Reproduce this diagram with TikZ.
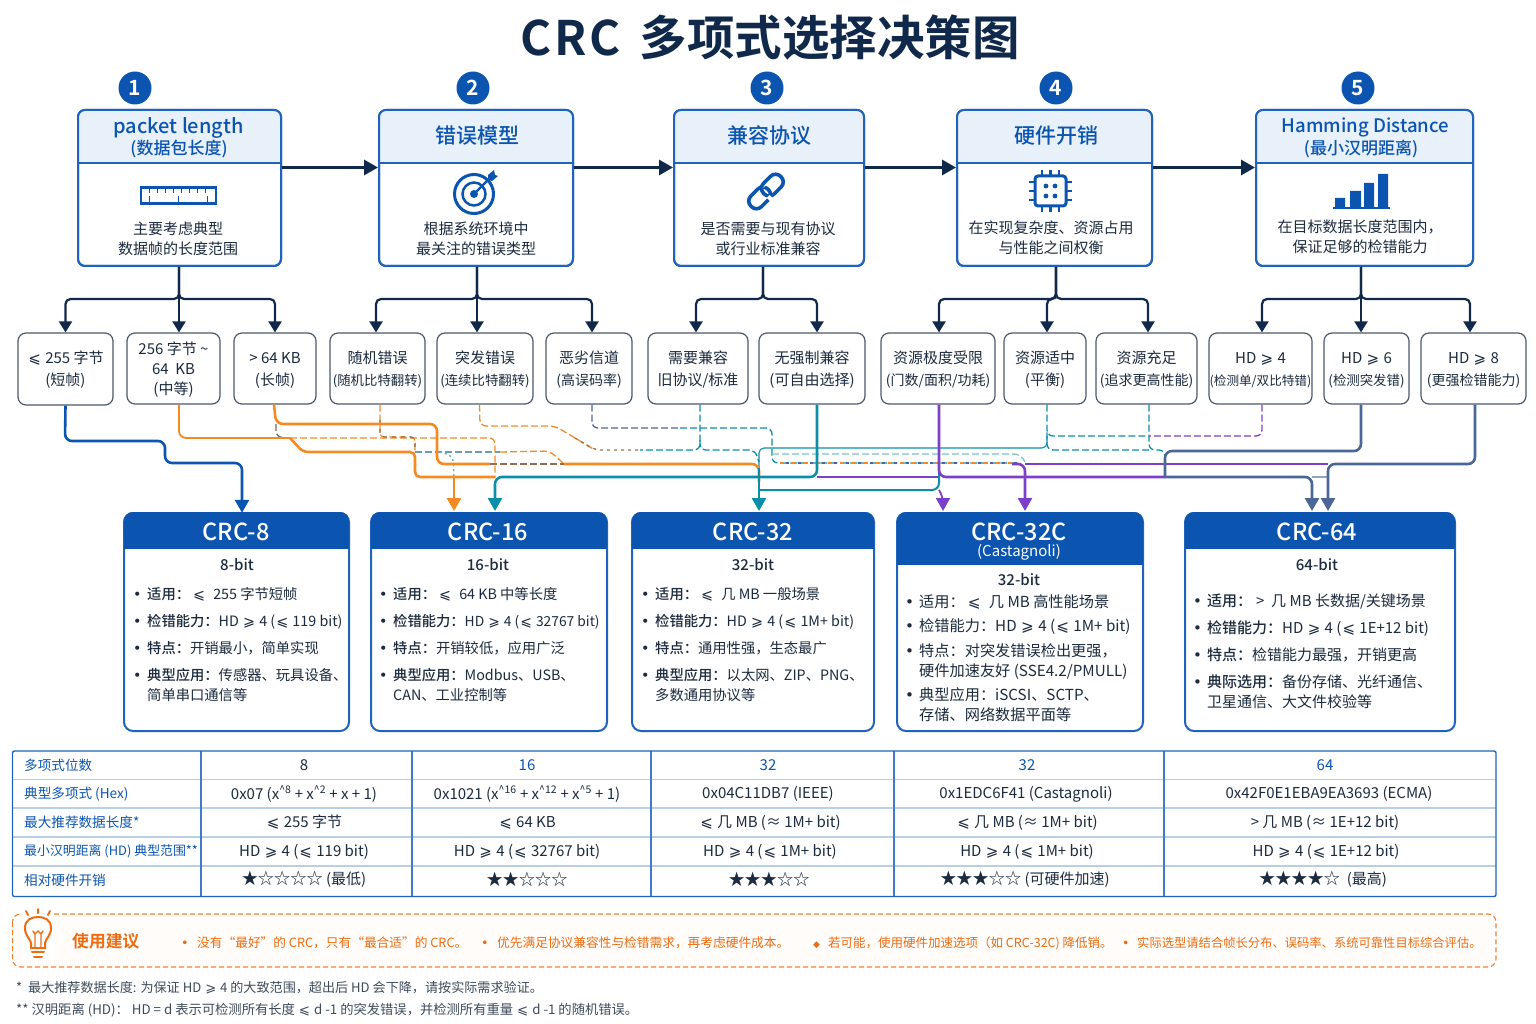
\documentclass[tikz,border=0pt]{standalone}
\usepackage{fontspec}
\setmainfont{Noto Sans CJK SC}[BoldFont={Noto Sans CJK SC Medium}]
\newfontfamily\titlef{Noto Sans CJK SC Bold}
\newfontfamily\symf{DejaVu Sans}
\usetikzlibrary{arrows.meta,calc}
\definecolor{navy}{HTML}{10284A}
\definecolor{bblue}{HTML}{0B55B0}
\definecolor{lineblue}{HTML}{1F63BC}
\definecolor{headfill}{HTML}{E8F0FA}
\definecolor{txt}{HTML}{1C2B3E}
\definecolor{optb}{HTML}{4B5A6E}
\definecolor{orng}{HTML}{F58A23}
\definecolor{teal1}{HTML}{0B8FA8}
\definecolor{purp}{HTML}{7B3FC9}
\definecolor{slate}{HTML}{4A6798}
\definecolor{grid}{HTML}{B9CFE6}
\definecolor{advice}{HTML}{EE6C10}
\newcommand{\lesym}{\hspace{1pt}{\symf ⩽}\hspace{1pt}}
\newcommand{\gesym}{\hspace{1pt}{\symf ⩾}\hspace{1pt}}
\newcommand{\lew}{\hspace{2pt}\lesym\hspace{4pt}}
\newcommand{\bul}{\makebox[14pt][l]{\symf •}}
\newcommand{\ind}{\hspace*{14pt}}
\newcommand{\sps}[1]{\textsuperscript{\textasciicircum #1}}
\newcommand{\fs}[2]{\fontsize{#1}{#2}\selectfont}
\newcommand{\abul}[2]{\makebox[#1pt][l]{\symf #2}}
\newcommand{\stars}[1]{{\fs{16.2}{15}#1}}
\tikzset{
 x=1pt,y=-1pt,
 numc/.style={circle,fill=bblue,text=white,minimum size=33pt,inner sep=0pt,font=\titlef\fs{21}{21}},
 cardb/.style={draw=lineblue,line width=2pt,rounded corners=7pt,fill=white},
 headt/.style={text=bblue,align=center,inner sep=0pt,yshift=-1pt,font=\fs{21}{22}\bfseries},
 bodyt/.style={text=txt,align=center,inner sep=0pt,yshift=-1pt,font=\fs{15}{20}\selectfont},
 optn/.style={draw=optb,line width=1.2pt,rounded corners=8pt,fill=white,text=txt,align=center,inner sep=0pt,font=\fs{15}{22}\selectfont},
 crch/.style={text=white,align=center,inner sep=0pt,yshift=-1pt,font=\fs{23.5}{24}\bfseries},
 crct/.style={text=txt,align=left,anchor=north west,inner sep=0pt,font=\fs{14.3}{20}\selectfont},
 bitt/.style={text=txt,inner sep=0pt,yshift=-1pt,font=\fs{15}{16}\bfseries},
 treel/.style={draw=navy,line width=2.2pt,rounded corners=5pt,-{Triangle[width=13pt,length=11pt]}},
 flowl/.style={draw=navy,line width=3pt,-{Triangle[width=15pt,length=14pt]}},
 solidc/.style={line width=2.6pt,rounded corners=7pt},
 thinc/.style={line width=1.3pt,rounded corners=6pt,dash pattern=on 7pt off 3pt},
 hairc/.style={line width=1.1pt,rounded corners=5pt},
 tip/.style={-{Triangle[width=14pt,length=13pt]}},
 rowl/.style={text=bblue,anchor=west,inner sep=0pt,font=\fs{13.6}{14}\selectfont},
 cell/.style={text=txt,inner sep=0pt,font=\fs{15}{15}\selectfont},
 advt/.style={text=advice,anchor=west,inner sep=0pt,yshift=-1pt,font=\fs{12.7}{14}\selectfont},
 foot/.style={text=txt!85,anchor=west,inner sep=0pt,yshift=-1pt,font=\fs{13.1}{14}\selectfont},
 icon/.style={draw=bblue,line width=2.2pt},
}
\begin{document}
\begin{tikzpicture}
\useasboundingbox (0,0) rectangle (1536,1024);
\node[text=navy,inner sep=0pt,font=\titlef\fs{47.5}{50}] (title) at (770,38) {C\hspace{3pt}R\hspace{3pt}C\hspace{19pt}多项式选择决策图};
% number badges
\node[numc] (n1) at (135,88) {1};
\node[numc] (n2) at (473,88) {2};
\node[numc] (n3) at (767,88) {3};
\node[numc] (n4) at (1056,88) {4};
\node[numc] (n5) at (1358,88) {5};
% top cards
\newcommand{\card}[3]{% name x1 x2
 \node[cardb,minimum width=#3pt-#2pt,minimum height=156pt,inner sep=0pt] (#1) at ({(#2+#3)/2},188) {};
 \begin{scope}
 \clip[rounded corners=7pt] (#2,110) rectangle (#3,266);
 \fill[headfill] (#2,110) rectangle (#3,163);
 \end{scope}
 \draw[draw=lineblue,line width=2pt,rounded corners=7pt] (#2,110) rectangle (#3,266);
 \draw[draw=lineblue,line width=2pt] (#2,163) -- (#3,163);
}
\card{c1}{78}{281}
\card{c2}{379}{573}
\card{c3}{674}{864}
\card{c4}{957}{1152}
\card{c5}{1256}{1473}
\node[headt,font=\fs{20}{22}\bfseries] (h1a) at (178.5,127) {packet length};
\node[headt,font=\fs{17}{18}\bfseries] (h1b) at (179,148) {(数据包长度)};
\node[headt] (h2) at (477,135) {错误模型};
\node[headt] (h3) at (769,135) {兼容协议};
\node[headt] (h4) at (1056,135) {硬件开销};
\node[headt,font=\fs{18.6}{22}\bfseries] (h5a) at (1365.5,126) {Hamming Distance};
\node[headt,font=\fs{17}{18}\bfseries] (h5b) at (1361,148) {(最小汉明距离)};
\node[bodyt] (b1) at (178,238) {主要考虑典型\\数据帧的长度范围};
\node[bodyt] (b2) at (476,238) {根据系统环境中\\最关注的错误类型};
\node[bodyt] (b3) at (768,238) {是否需要与现有协议\\或行业标准兼容};
\node[bodyt] (b4) at (1051,237) {在实现复杂度、资源占用\\与性能之间权衡};
\node[bodyt] (b5) at (1360,236) {在目标数据长度范围内，\\保证足够的检错能力};
% icons
\draw[icon,fill=white] (141,187.5) rectangle (216,203.5);
\foreach \xx in {149,157,...,209} \draw[bblue,line width=1pt] (\xx,188) -- (\xx,193);
\foreach \xx in {149,178.5,207} \draw[bblue,line width=1pt] (\xx,196) -- (\xx,203);
\draw[icon,line width=3pt] (474,194) circle (19.5);
\draw[icon,line width=2.5pt] (474,194) circle (11.5);
\fill[bblue] (474,194) circle (4);
\draw[bblue,line width=2.4pt] (474,194) -- (491,177);
\fill[bblue] (488,175) -- (494,170) -- (495,175) -- (498,176) -- (492,181) -- (488,180) -- cycle;
\begin{scope}[shift={(766,191.5)}]
 \draw[icon,line width=3.6pt,rounded corners=7pt,rotate=45] (-21,-7.5) rectangle (3,7.5);
 \draw[white,line width=6pt,rotate=45] (0,-7.5) -- (6,-7.5);
 \draw[icon,line width=3.6pt,rounded corners=7pt,rotate=45] (-3,-7.5) rectangle (21,7.5);
 \draw[white,line width=5pt,rotate=45] (-4,7.5) -- (0,7.5);
\end{scope}
\draw[icon,line width=3pt,rounded corners=3pt] (1035,176) rectangle (1066,206);
\foreach \xx in {1042,1050.5,1059} \draw[bblue,line width=2.2pt] (\xx,170) -- (\xx,176) (\xx,206) -- (\xx,212);
\foreach \yy in {182,191,200} \draw[bblue,line width=2.2pt] (1029,\yy) -- (1035,\yy) (1066,\yy) -- (1072,\yy);
\foreach \xx in {1046,1055} \foreach \yy in {186,196} \fill[bblue] (\xx,\yy) circle (2.4);
\fill[bblue] (1335,198) rectangle (1345,207) (1350,191) rectangle (1361,207) (1364,183) rectangle (1374,207) (1378,174) rectangle (1388,207);
\draw[bblue,line width=1.8pt] (1333,208) -- (1390,208);
% flow arrows
\draw[flowl] ([yshift=20.5pt]c1.east) -- ([yshift=20.5pt]c2.west);
\draw[flowl] ([yshift=20.5pt]c2.east) -- ([yshift=20.5pt]c3.west);
\draw[flowl] ([yshift=20.5pt]c3.east) -- ([yshift=20.5pt]c4.west);
\draw[flowl] ([yshift=20.5pt]c4.east) -- ([yshift=20.5pt]c5.west);
% options
\newcommand{\opt}[6]{\node[optn,minimum width=#3pt-#2pt,minimum height=#5pt-#4pt] (#1) at ({(#2+#3)/2},{(#4+#5)/2}) {\rule{0pt}{14pt}#6};}
\opt{o1}{18}{113}{333}{405}{\lesym{} 255 字节\\(短帧)}
\opt{o2}{127}{220}{333}{404}{256 字节 \textasciitilde\\[-2pt]64\ \ KB\\[-2pt](中等)}
\opt{o3}{234}{316}{333}{404}{> 64 KB\\(长帧)}
\opt{o4}{330}{425}{333}{404}{随机错误\\\fs{13.4}{20}\selectfont(随机比特翻转)}
\opt{o5}{437}{533}{333}{404}{突发错误\\\fs{13.4}{20}\selectfont(连续比特翻转)}
\opt{o6}{546}{632}{333}{404}{恶劣信道\\\fs{14}{20}\selectfont(高误码率)}
\opt{o7}{648}{748}{333}{404}{需要兼容\\旧协议/标准}
\opt{o8}{759}{865}{333}{404}{无强制兼容\\(可自由选择)}
\opt{o9}{881}{995}{333}{404}{资源极度受限\\\fs{14}{22}\selectfont(门数/面积/功耗)}
\opt{o10}{1004}{1086}{333}{404}{资源适中\\(平衡)}
\opt{o11}{1096}{1197}{333}{404}{资源充足\\\fs{14}{22}\selectfont(追求更高性能)}
\opt{o12}{1209}{1312}{333}{404}{HD \gesym{} 4\\\fs{12.6}{22}\selectfont(检测单/双比特错)}
\opt{o13}{1324}{1409}{333}{404}{HD \gesym{} 6\\\fs{13.4}{22}\selectfont(检测突发错)}
\opt{o14}{1421}{1526}{333}{404}{HD \gesym{} 8\\\fs{14}{22}\selectfont(更强检错能力)}
% trees
\newcommand{\tree}[3]{% card name, start shift, list
 \foreach \tg/\sh in {#3} \draw[treel] ([xshift=#2pt]#1.south) -- ++(0,32) -| ([xshift=\sh pt]\tg.north);
}
\tree{c1}{-0.5}{o1/0,o2/5.5,o3/0}
\tree{c2}{1}{o4/-1.5,o5/-8,o6/3}
\tree{c3}{-6}{o7/-2,o8/5}
\tree{c4}{1.5}{o9/1,o10/2,o11/1.5}
\tree{c5}{-3.5}{o12/1.5,o13/-5.5,o14/-3.5}
% CRC cards
\newcommand{\crc}[4]{% name x1 x2 hy
 \node[inner sep=0pt,minimum width=#3pt-#2pt,minimum height=218pt] (#1) at ({(#2+#3)/2},622) {};
 \draw[draw=lineblue,line width=2pt,rounded corners=9pt,fill=white] (#2,513) rectangle (#3,731);
 \begin{scope}
 \clip[rounded corners=9pt] (#2,512) rectangle (#3,731);
 \fill[bblue] (#2,512) rectangle (#3,#4);
 \end{scope}
}
\crc{k1}{124}{349}{549}
\crc{k2}{371}{607}{549}
\crc{k3}{632}{874}{549}
\crc{k4}{897}{1143}{565}
\crc{k5}{1185}{1455}{549}
\node[crch] (t1) at (236,531) {CRC-8};
\node[crch] (t2) at (488,531) {CRC-16};
\node[crch] (t3) at (753,531) {CRC-32};
\node[crch] (t4) at (1019,531) {CRC-32C};
\node[crch,font=\fs{15}{16}\selectfont] (t4b) at (1019,551) {(Castagnoli)};
\node[crch] (t5) at (1317,531) {CRC-64};
\node[bitt] (w1) at (237,564) {8-bit};
\node[bitt] (w2) at (488,564) {16-bit};
\node[bitt] (w3) at (753,564) {32-bit};
\node[bitt] (w4) at (1019,579) {32-bit};
\node[bitt] (w5) at (1317,564) {64-bit};
\node[crct] (l1) at (133,587) {\bul{\bfseries 适用：}\lew{} 255 字节短帧\\[7pt]\bul{\bfseries 检错能力：}HD \gesym{} 4 (\lesym{} 119 bit)\\[7pt]\bul{\bfseries 特点：}开销最小，简单实现\\[7pt]\bul{\bfseries 典型应用：}传感器、玩具设备、\\\ind 简单串口通信等};
\node[crct] (l2) at (379,587) {\bul{\bfseries 适用：}\lew{} 64 KB 中等长度\\[7pt]\bul{\bfseries 检错能力：}{\fs{13.8}{20}HD \gesym{} 4 (\lesym{} 32767 bit)}\\[7pt]\bul{\bfseries 特点：}开销较低，应用广泛\\[7pt]\bul{\bfseries 典型应用：}Modbus、USB、\\\ind CAN、工业控制等};
\node[crct] (l3) at (641,587) {\bul{\bfseries 适用：}\lew{} 几 MB 一般场景\\[7pt]\bul{\bfseries 检错能力：}HD \gesym{} 4 (\lesym{} 1M+ bit)\\[7pt]\bul{\bfseries 特点：}通用性强，生态最广\\[7pt]\bul{\bfseries 典型应用：}以太网、ZIP、PNG、\\\ind 多数通用协议等};
\node[crct,font=\fs{15.2}{20}\selectfont] (l4) at (905,594) {\bul 适用：\lew{} 几 MB 高性能场景\\[4pt]\bul 检错能力：HD \gesym{} 4 (\lesym{} 1M+ bit)\\[5pt]\bul 特点：对突发错误检出更强，\\\ind 硬件加速友好 (SSE4.2/PMULL)\\[4pt]\bul 典型应用：iSCSI、SCTP、\\\ind 存储、网络数据平面等};
\node[crct,font=\fs{15}{20}\selectfont] (l5) at (1193,594) {\bul{\bfseries 适用：}\hspace{4pt}>\ \ 几\ MB 长数据/关键场景\\[7pt]\bul{\bfseries 检错能力：}HD \gesym{} 4 (\lesym{} 1E+12 bit)\\[7pt]\bul{\bfseries 特点：}检错能力最强，开销更高\\[7pt]\bul{\bfseries 典际选用：}备份存储、光纤通信、\\\ind 卫星通信、大文件校验等};
% connector targets and junctions
\coordinate (in8) at ([xshift=5.5pt]k1.north);
\coordinate (in16a) at (454,511);
\coordinate (in16b) at (495,511);
\coordinate (in32) at (759,511);
\coordinate (in32a) at (943,511);
\coordinate (in32b) at (1025,511);
\coordinate (in64a) at (1312,511);
\coordinate (in64b) at (1328,511);
\coordinate (j1) at (290,438);
\coordinate (j2) at (415,452);
% dashed routes
\draw[thinc,orng] (j1) -- (495,438) -- (495,478);
\draw[thinc,optb!70!orng] (276,424) -- (276,437) -- (j1);
\draw[thinc,orng,rounded corners=4pt] ([xshift=2.5pt]o4.south) -- (380,437) -- (415,437) -- (j2);
\draw[thinc,optb!60!orng,rounded corners=4pt,dash pattern=on 4pt off 5pt] (380,420) -- (380,437) -- (415,437) -- (j2);
\draw[thinc,line width=1.1pt,optb!50!teal1!70!white] (j2) -- (500,452);
\draw[thinc,orng] (500,452) -- (550,451) -- (564,464);
\draw[thinc,teal1!70!white,dash pattern=on 2pt off 3pt] (440,452) -- (453,456) -- (454,478);
\draw[thinc,optb!60!orng] (490,464) -- (564,464);
\draw[thinc,orng] ([xshift=-5.5pt]o5.south) -- (480,426) -- (555,426) -- (595,450);
\draw[thinc,optb!50!orng,dash pattern=on 3pt off 4pt] (575,438) -- (595,450) -- (640,450);
\draw[thinc,teal1] ([xshift=2pt]o7.south) -- (700,450) -- (640,450);
\draw[thinc,teal1] (700,440) -- (700,450) -- (755,450) -- (759,462);
\draw[thinc,slate] ([xshift=3pt]o6.south) -- (592,428) -- (680,428);
\draw[thinc,teal1] (680,428) -- (772,428) -- (772,463) -- (1020,463);
\draw[thinc,orng,dash pattern=on 4pt off 8pt] (780,463) -- (1020,463);
\draw[thinc,slate,dash pattern=on 3pt off 9pt,dash phase=6pt] (780,463) -- (1020,463);
\draw[thinc,teal1!55!white] (772,454) -- (1020,454) -- (1025,462);
\draw[thinc,teal1] ([xshift=2pt]o10.south) -- (1047,436) -- (1149,436);
\draw[thinc,purp] ([xshift=1.5pt]o12.south) -- (1262,436) -- (1149,436);
\draw[thinc,teal1] ([xshift=2.5pt]o11.south) -- (1149,450) -- (1165,450) -- (1165,470);
\draw[thinc,teal1] (1149,450) -- (1047,450) -- (1047,430);
% thin solids
\draw[hairc,teal1] (759,470) -- (759,448) -- (1047,448) -- (1047,436);
\draw[hairc,purp] (817,477) -- (939,477);
\draw[hairc,purp] (1025,464) -- (1328,464);
\draw[hairc,slate!60!white] (1312,477) -- (1328,477);
% solid routes
\draw[solidc,bblue,tip] (o1.south) -- (65,441) -- (165,441) -- (165,463) -- (242,463) -- (in8);
\draw[solidc,orng,line width=1.8pt] ([xshift=5.5pt]o2.south) -- (179,438) -- (j1);
\draw[solidc,orng] ([xshift=-1pt]o3.south) -- (276,424) -- (437,424) -- (437,464) -- (490,464);
\draw[solidc,orng] (564,464) -- (759,464) -- (759,482);
\draw[solidc,orng,rounded corners=5pt] (j1) -- (303,452) -- (j2) -- (415,477) -- (495,477);
\draw[solidc,orng,tip] (454,478) -- (in16a);
\draw[solidc,teal1,tip] ([xshift=5pt]o8.south) -- (817,477) -- (495,477) -- (in16b);
\draw[solidc,teal1,line width=2pt] (939,472) -- (939,490) -- (759,490);
\draw[solidc,teal1,tip] (759,468) -- (in32);
\draw[solidc,purp,line width=1.8pt,tip] (939,490) -- (943,496) -- (in32a);
\draw[solidc,purp] ([xshift=1pt]o9.south) -- (939,477) -- (1165,477);
\draw[solidc,purp,tip] (1012,464) -- (1025,464) -- (in32b);
\draw[solidc,slate] ([xshift=-5.5pt]o13.south) -- (1361,451) -- (1165,451) -- (1165,477);
\draw[solidc,slate,tip] (1165,477) -- (1312,477) -- (in64a);
\draw[solidc,slate,tip] ([xshift=1.5pt]o14.south) -- (1475,464) -- (1328,464) -- (in64b);
% table
\foreach \yy in {779.5,808,837,866} \draw[grid,line width=1.2pt] (12.5,\yy) -- (1496,\yy);
\foreach \xx in {201,412,651,894,1164} \draw[lineblue!85,line width=1.2pt] (\xx,751) -- (\xx,896.5);
\draw[lineblue,line width=1.4pt,rounded corners=2pt] (12.5,751) rectangle (1496,896.5);
\node[rowl] (r1) at (24,765.5) {多项式位数};
\node[rowl] (r2) at (24,794) {典型多项式 (Hex)};
\node[rowl] (r3) at (24,822.5) {最大推荐数据长度*};
\node[rowl,font=\fs{12.9}{14}\selectfont] (r4) at (24,851.5) {最小汉明距离 (HD) 典型范围**};
\node[rowl] (r5) at (24,880) {相对硬件开销};
\node[cell] (a1) at (304,765.5) {8};
\node[cell,text=bblue] (a2) at (527,765.5) {16};
\node[cell,text=bblue] (a3) at (768,765.5) {32};
\node[cell,text=bblue] (a4) at (1027,765.5) {32};
\node[cell,text=bblue] (a5) at (1325,765.5) {64};
\node[cell] (b1x) at (304,794) {0x07 (x\sps{8} + x\sps{2} + x + 1)};
\node[cell] (b2x) at (527,794) {0x1021 (x\sps{16} + x\sps{12} + x\sps{5} + 1)};
\node[cell] (b3x) at (768,794) {0x04C11DB7 (IEEE)};
\node[cell] (b4x) at (1026,794) {0x1EDC6F41 (Castagnoli)};
\node[cell] (b5x) at (1329,794) {0x42F0E1EBA9EA3693 (ECMA)};
\node[cell] (c1x) at (304,822.5) {\lesym{} 255 字节};
\node[cell] (c2x) at (527,822.5) {\lesym{} 64 KB};
\node[cell] (c3x) at (770,822.5) {\lesym{} 几 MB (≈ 1M+ bit)};
\node[cell] (c4x) at (1027,822.5) {\lesym{} 几 MB (≈ 1M+ bit)};
\node[cell] (c5x) at (1325,822.5) {> 几 MB (≈ 1E+12 bit)};
\node[cell] (d1x) at (304,851.5) {HD \gesym{} 4 (\lesym{} 119 bit)};
\node[cell] (d2x) at (527,851.5) {HD \gesym{} 4 (\lesym{} 32767 bit)};
\node[cell] (d3x) at (770,851.5) {HD \gesym{} 4 (\lesym{} 1M+ bit)};
\node[cell] (d4x) at (1027,851.5) {HD \gesym{} 4 (\lesym{} 1M+ bit)};
\node[cell] (d5x) at (1326,851.5) {HD \gesym{} 4 (\lesym{} 1E+12 bit)};
\node[cell] (e1x) at (304,879.5) {\stars{★☆☆☆☆} (最低)};
\node[cell] (e2x) at (527,879.5) {\stars{★★☆☆☆}};
\node[cell] (e3x) at (769,879.5) {\stars{★★★☆☆}};
\node[cell] (e4x) at (1025,879.5) {\stars{★★★☆☆} (可硬件加速)};
\node[cell] (e5x) at (1323,879.5) {\stars{★★★★☆}\ \ (最高)};
% advice
\draw[advice!85,line width=1.1pt,dash pattern=on 5pt off 3pt,rounded corners=8pt,fill=orange!2] (12.5,914) rectangle (1496,967);
\begin{scope}[advice,line width=2pt,line cap=round]
 \fill[white] (22,908) rectangle (54,960);
 \draw (31,948) -- (31,943) .. controls (30,938) and (25,936) .. (25,928) .. controls (25,920) and (31,917) .. (38,917) .. controls (45,917) and (51,920) .. (51,928) .. controls (51,936) and (46,938) .. (45,943) -- (45,948) -- cycle;
 \draw[line width=1.4pt] (35,948) -- (35,934) (41,948) -- (41,934) (33,931) -- (35,934) -- (38,931) -- (41,934) -- (43,931);
 \draw (32,952) -- (44,952) (34,956.5) -- (42,956.5);
 \draw (38,909) -- (38,913) (26,911) -- (28,915) (50,911) -- (48,915);
\end{scope}
\node[advt,font=\titlef\fs{16.8}{18}] (adv) at (72,940) {使用建议};
\node[advt] (a1t) at (181,942) {\abul{16}{•}没有“最好”的 CRC，只有“最合适”的 CRC。};
\node[advt] (a2t) at (481,942) {\abul{16}{•}优先满足协议兼容性与检错需求，再考虑硬件成本。};
\node[advt,font=\fs{12.5}{14}\selectfont] (a3t) at (813,942) {\abul{15}{\fs{9}{14}◆}若可能，使用硬件加速选项（如 CRC-32C) 降低销。};
\node[advt,font=\fs{12.3}{14}\selectfont] (a4t) at (1122,942) {\abul{15}{•}实际选型请结合帧长分布、误码率、系统可靠性目标综合评估。};
% footnotes
\node[foot] (f1) at (16,987) {*\ \ 最大推荐数据长度: 为保证 HD \gesym{} 4 的大致范围，超出后 HD 会下降，请按实际需求验证。};
\node[foot,font=\fs{13.3}{14}\selectfont] (f2) at (16,1009) {** 汉明距离 (HD)：\ HD = d 表示可检测所有长度 \lesym{} d -1 的突发错误，并检测所有重量 \lesym{} d -1 的随机错误。};
\end{tikzpicture}
\end{document}
